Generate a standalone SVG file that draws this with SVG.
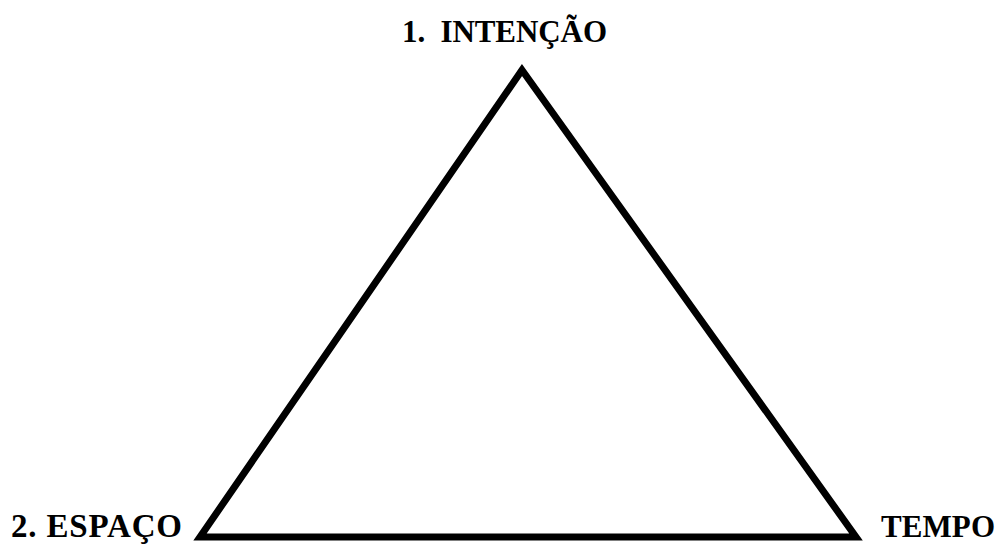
<svg xmlns="http://www.w3.org/2000/svg" width="999" height="544" viewBox="0 0 999 544">
<style>
.lbl{font-family:"Liberation Serif","Times New Roman",serif;font-weight:bold;font-size:31px;fill:#000}
.edge{fill:none;stroke:#000;stroke-width:7;stroke-linejoin:miter;stroke-miterlimit:10}
</style>
<rect width="999" height="544" fill="#fff"/>
<g id="connectors">
<polygon class="edge" points="522,70 200,537 856,537"/>
</g>
<g id="node-intencao"><text class="lbl" x="402" y="42" xml:space="preserve" textLength="205">1.  INTENÇÃO</text></g>
<g id="node-espaco"><text class="lbl" x="11" y="537" style="font-size:33px" textLength="171">2. ESPAÇO</text></g>
<g id="node-tempo"><text class="lbl" x="881" y="537" textLength="114">TEMPO</text></g>
</svg>
